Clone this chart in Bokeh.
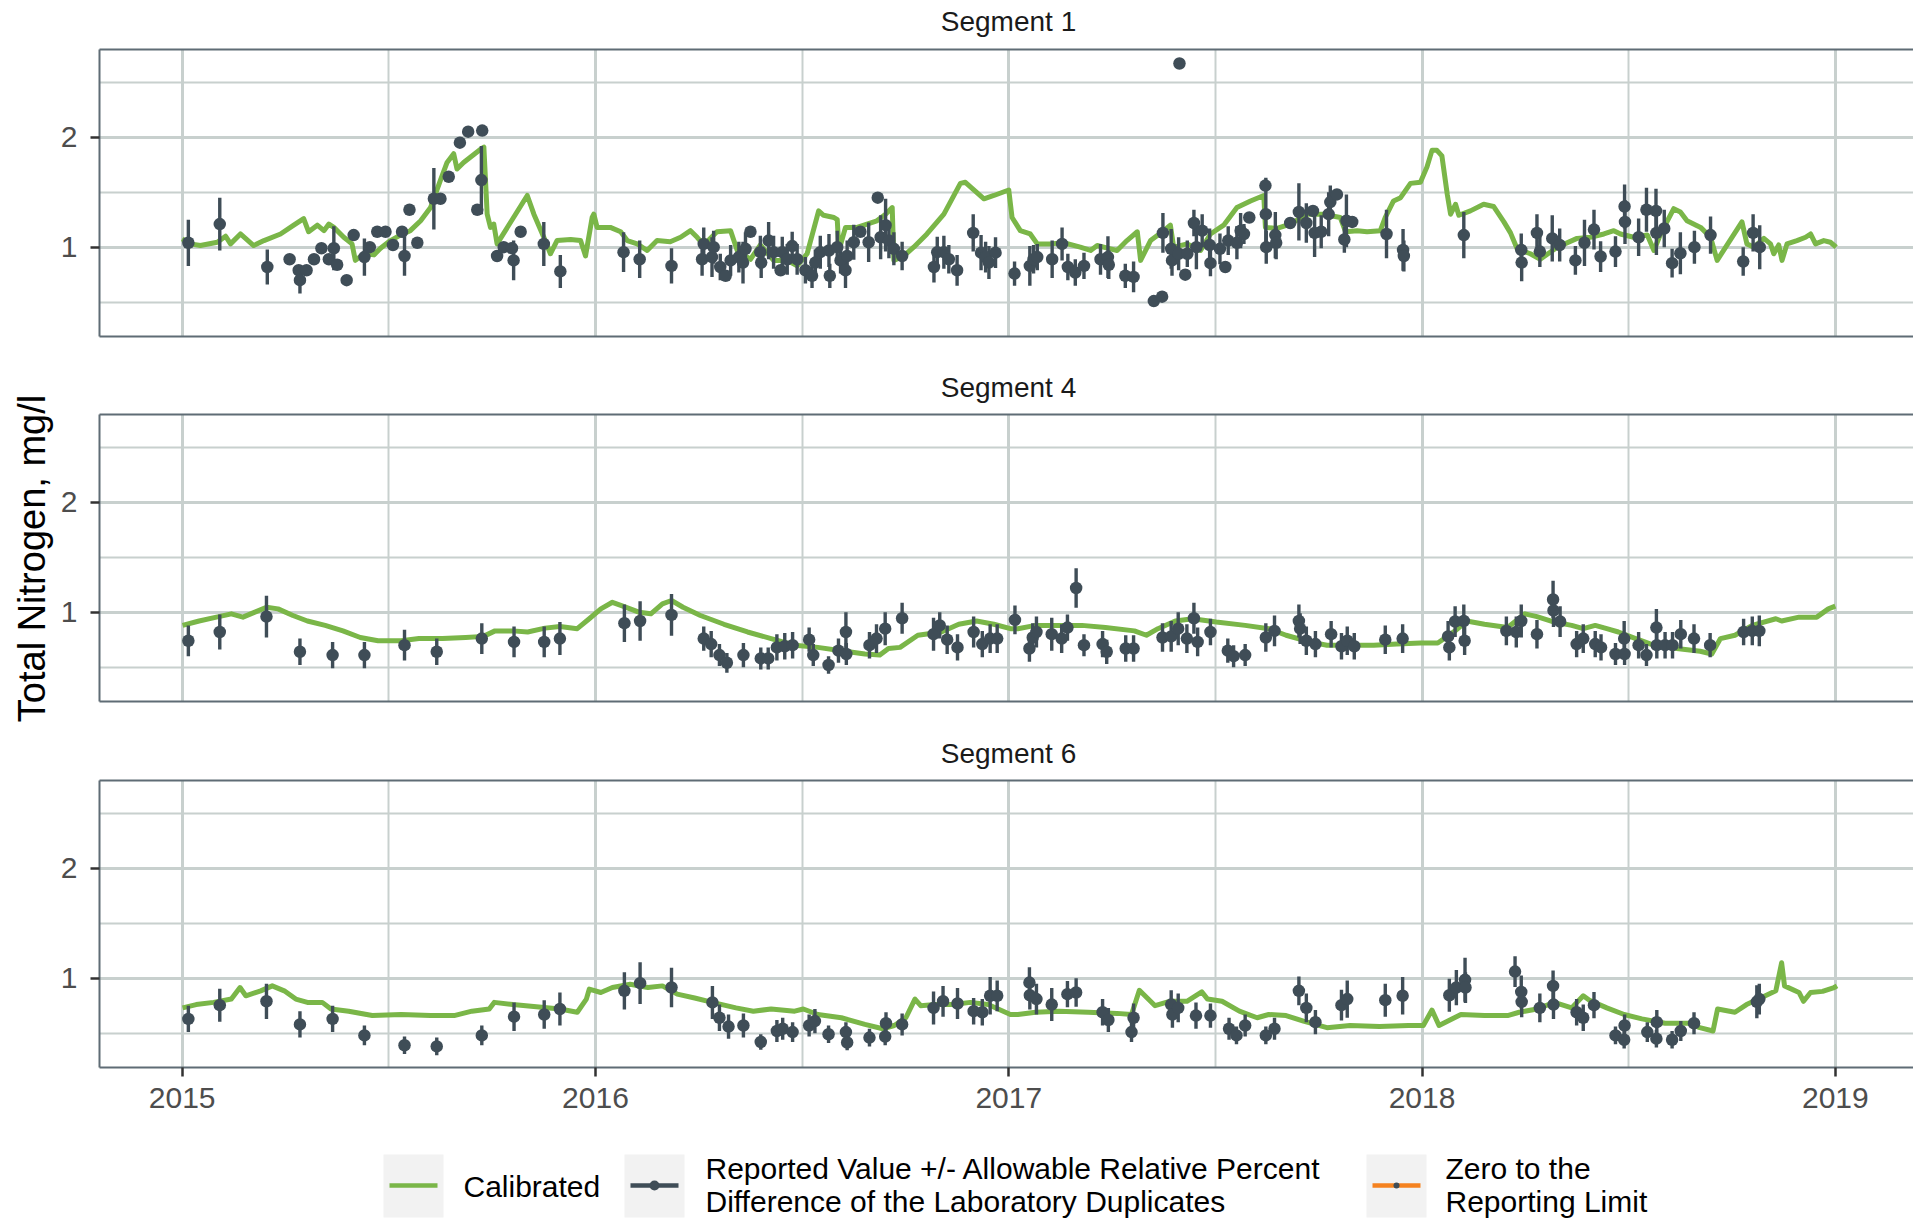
import math
from bokeh.plotting import figure
from bokeh.models import Range1d, FixedTicker, ColumnDataSource, LinearAxis
from bokeh.layouts import column, row
from bokeh.embed import file_html
from bokeh.resources import INLINE
from bokeh.core.properties import value

# ---------------- data ----------------
panel_names = ["Segment 1", "Segment 4", "Segment 6"]
year_ticks = [2015, 2016, 2017, 2018, 2019]
half_year_ticks = [2015.5, 2016.5, 2017.5, 2018.5]
y_ticks = [1, 2]
y_minor_ticks = [0.5, 1.5, 2.5]
y_title = "Total Nitrogen, mg/l"
legend_labels = ["Calibrated",
                 "Reported Value +/- Allowable Relative Percent|Difference of the Laboratory Duplicates",
                 "Zero to the|Reporting Limit"]

seg1_cal_t = [2015.000, 2015.020, 2015.044, 2015.085, 2015.105, 2015.117, 2015.141, 2015.173, 2015.198, 2015.238,
              2015.270, 2015.294, 2015.306, 2015.327, 2015.343, 2015.355, 2015.367, 2015.391, 2015.411, 2015.419,
              2015.440, 2015.464, 2015.480, 2015.504, 2015.528, 2015.552, 2015.577, 2015.601, 2015.625, 2015.641,
              2015.657, 2015.665, 2015.681, 2015.722, 2015.730, 2015.738, 2015.746, 2015.754, 2015.762, 2015.835,
              2015.851, 2015.875, 2015.891, 2015.907, 2015.940, 2015.964, 2015.976, 2015.992, 2015.996, 2016.004,
              2016.036, 2016.061, 2016.077, 2016.101, 2016.125, 2016.149, 2016.181, 2016.206, 2016.230, 2016.246,
              2016.262, 2016.294, 2016.327, 2016.343, 2016.375, 2016.399, 2016.431, 2016.464, 2016.488, 2016.512,
              2016.540, 2016.552, 2016.577, 2016.585, 2016.589, 2016.605, 2016.633, 2016.681, 2016.702, 2016.718,
              2016.722, 2016.746, 2016.770, 2016.802, 2016.843, 2016.883, 2016.895, 2016.940, 2016.964, 2017.000,
              2017.008, 2017.028, 2017.052, 2017.069, 2017.101, 2017.133, 2017.173, 2017.198, 2017.214, 2017.246,
              2017.262, 2017.286, 2017.311, 2017.319, 2017.343, 2017.375, 2017.391, 2017.399, 2017.432, 2017.464,
              2017.488, 2017.520, 2017.552, 2017.585, 2017.617, 2017.621, 2017.649, 2017.681, 2017.722, 2017.762,
              2017.802, 2017.815, 2017.843, 2017.867, 2017.899, 2017.911, 2017.931, 2017.948, 2017.972, 2017.996,
              2018.012, 2018.024, 2018.036, 2018.048, 2018.061, 2018.069, 2018.081, 2018.089, 2018.117, 2018.149,
              2018.173, 2018.198, 2018.214, 2018.230, 2018.262, 2018.286, 2018.327, 2018.375, 2018.407, 2018.440,
              2018.464, 2018.480, 2018.512, 2018.545, 2018.561, 2018.577, 2018.609, 2018.625, 2018.641, 2018.674,
              2018.698, 2018.714, 2018.774, 2018.786, 2018.803, 2018.827, 2018.843, 2018.851, 2018.863, 2018.871,
              2018.883, 2018.907, 2018.928, 2018.940, 2018.952, 2018.972, 2018.988, 2019.002]
seg1_cal_v = [1.076, 1.03, 1.015, 1.045, 1.10, 1.03, 1.12, 1.015, 1.06, 1.12,
              1.20, 1.26, 1.14, 1.20, 1.15, 1.21, 1.18, 1.09, 1.03, 0.88,
              0.94, 0.93, 0.99, 1.06, 1.11, 1.15, 1.24, 1.36, 1.61, 1.77,
              1.85, 1.71, 1.77, 1.89, 1.91, 1.30, 1.18, 1.21, 1.03, 1.47,
              1.30, 1.09, 0.94, 1.06, 1.07, 1.06, 0.92, 1.27, 1.30, 1.18,
              1.18, 1.14, 1.06, 1.03, 0.97, 1.06, 1.05, 1.09, 1.15, 1.09,
              1.02, 1.14, 1.15, 0.97, 0.89, 1.02, 0.88, 0.88, 0.83, 0.94,
              1.33, 1.29, 1.27, 1.25, 0.97, 1.18, 1.18, 1.24, 1.30, 1.36,
              0.88, 0.92, 1.00, 1.12, 1.30, 1.58, 1.59, 1.44, 1.47, 1.52,
              1.27, 1.15, 1.12, 1.03, 1.03, 1.04, 1.00, 0.97, 1.015, 0.985,
              0.97, 1.06, 1.14, 0.88, 1.06, 1.15, 1.20, 1.00, 1.03, 0.97,
              1.12, 1.20, 1.36, 1.42, 1.47, 1.18, 1.17, 1.21, 1.30, 1.30,
              1.27, 1.14, 1.15, 1.14, 1.15, 1.27, 1.42, 1.45, 1.58, 1.59,
              1.73, 1.88, 1.88, 1.83, 1.48, 1.30, 1.39, 1.29, 1.33, 1.39,
              1.37, 1.23, 1.13, 0.985, 0.94, 0.89, 1.00, 1.08, 1.09, 1.12,
              1.15, 1.12, 1.09, 1.11, 0.97, 1.12, 1.35, 1.32, 1.24, 1.18,
              1.09, 0.88, 1.23, 1.03, 1.00, 1.08, 1.03, 0.94, 1.02, 0.88,
              1.03, 1.06, 1.09, 1.12, 1.03, 1.06, 1.045, 1.00]

seg1_obs_t = [2015.015, 2015.091, 2015.206, 2015.260, 2015.282, 2015.285, 2015.301, 2015.319, 2015.337, 2015.355,
              2015.367, 2015.375, 2015.398, 2015.415, 2015.441, 2015.454, 2015.472, 2015.492, 2015.510, 2015.532,
              2015.538, 2015.550, 2015.569, 2015.609, 2015.625, 2015.645, 2015.672, 2015.692, 2015.714, 2015.724,
              2015.726, 2015.762, 2015.778, 2015.798, 2015.802, 2015.819, 2015.875, 2015.915,
              2016.068, 2016.107, 2016.184, 2016.258, 2016.262, 2016.282, 2016.286, 2016.302, 2016.315, 2016.327,
              2016.347, 2016.357, 2016.363, 2016.375, 2016.399, 2016.401, 2016.419, 2016.431, 2016.448, 2016.452,
              2016.464, 2016.476, 2016.488, 2016.508, 2016.524, 2016.532, 2016.544, 2016.565, 2016.567, 2016.585,
              2016.593, 2016.605, 2016.609, 2016.625, 2016.641, 2016.661, 2016.683, 2016.690, 2016.702, 2016.710,
              2016.722, 2016.742, 2016.819, 2016.827, 2016.843, 2016.855, 2016.875, 2016.914, 2016.933, 2016.944,
              2016.952, 2016.968, 2017.014, 2017.051, 2017.060, 2017.069, 2017.105, 2017.129, 2017.143, 2017.161,
              2017.182, 2017.222, 2017.240, 2017.242, 2017.282, 2017.302, 2017.351, 2017.371, 2017.373, 2017.393,
              2017.395, 2017.411, 2017.413, 2017.427, 2017.432, 2017.448, 2017.454, 2017.468, 2017.486, 2017.488,
              2017.511, 2017.524, 2017.531, 2017.552, 2017.561, 2017.569, 2017.582, 2017.621, 2017.622, 2017.623,
              2017.645, 2017.647, 2017.681, 2017.702, 2017.720, 2017.736, 2017.740, 2017.756, 2017.774, 2017.778,
              2017.794, 2017.812, 2017.817, 2017.831, 2017.914, 2017.954, 2017.956, 2018.101,
              2018.240, 2018.241, 2018.278, 2018.285, 2018.315, 2018.333, 2018.371, 2018.393, 2018.416, 2018.432,
              2018.468, 2018.490, 2018.491, 2018.524, 2018.543, 2018.566, 2018.567, 2018.586, 2018.605, 2018.625,
              2018.659, 2018.698, 2018.777, 2018.801, 2018.817]
seg1_obs_v = [1.04, 1.21, 0.82, 0.89, 0.79, 0.70, 0.79, 0.89, 0.99, 0.89,
              0.99, 0.84, 0.70, 1.11, 0.91, 1.00, 1.14, 1.14, 1.02, 1.14,
              0.92, 1.34, 1.04, 1.44, 1.44, 1.64, 1.95, 2.05, 1.34, 1.61,
              2.06, 0.92, 1.00, 0.99, 0.88, 1.14, 1.03, 0.78,
              0.955, 0.89, 0.83, 0.89, 1.03, 0.91, 1.00, 0.82, 0.74, 0.88,
              0.91, 0.86, 0.985, 1.14, 0.955, 0.86, 1.06, 0.955, 0.79, 0.955,
              0.89, 1.01, 0.89, 0.79, 0.74, 0.86, 0.955, 0.97, 0.74, 1.00,
              0.88, 0.79, 0.92, 1.045, 1.14, 1.045, 1.45, 1.09, 1.20, 1.06,
              0.985, 0.92, 0.82, 0.955, 0.955, 0.89, 0.79, 1.13, 0.95, 0.91,
              0.86, 0.95, 0.76, 0.83, 0.89, 0.91, 0.89, 1.03, 0.82, 0.77,
              0.83, 0.89, 0.91, 0.84, 0.74, 0.73, 0.51, 0.55, 1.13, 0.985,
              0.88, 0.94, 2.67, 0.75, 0.94, 1.22, 1.00, 1.15, 1.02, 0.855,
              0.985, 0.82, 1.06, 1.04, 1.15, 1.12, 1.27, 1.56, 1.30, 1.00,
              1.11, 1.04, 1.22, 1.32, 1.22, 1.33, 1.13, 1.14, 1.30, 1.41,
              1.48, 1.07, 1.24, 1.23, 1.12, 0.975, 0.92, 1.11,
              0.975, 0.86, 1.13, 0.96, 1.08, 1.02, 0.88, 1.04, 1.16, 0.915,
              0.96, 1.37, 1.23, 1.09, 1.34, 1.33, 1.13, 1.17, 0.855, 0.945,
              1.00, 1.11, 0.87, 1.13, 1.00]
seg1_obs_err = [0.21, 0.24, 0.16, 0, 0, 0.12, 0, 0, 0, 0,
                0.20, 0, 0, 0, 0.17, 0, 0, 0, 0, 0,
                0.18, 0, 0, 0.28, 0, 0, 0, 0, 0, 0.31,
                0, 0, 0, 0, 0.18, 0, 0.20, 0.15,
                0.18, 0.17, 0.16, 0.15, 0.15, 0.18, 0.15, 0.12, 0, 0.14,
                0.14, 0.19, 0.15, 0, 0.15, 0.14, 0.17, 0.15, 0, 0.14,
                0.14, 0.13, 0.14, 0.12, 0.11, 0.12, 0.15, 0.15, 0.11, 0.15,
                0.12, 0.16, 0.14, 0.16, 0, 0.18, 0, 0.20, 0.24, 0.16,
                0.15, 0.13, 0.14, 0.14, 0.15, 0.13, 0.14, 0.17, 0.16, 0.14,
                0.15, 0.14, 0.11, 0.18, 0.13, 0.12, 0.17, 0.15, 0.12, 0.12,
                0.12, 0.14, 0.19, 0.13, 0.11, 0.14, 0, 0, 0.18, 0.18,
                0.14, 0.15, 0, 0, 0.12, 0.12, 0.20, 0.15, 0.15, 0.12,
                0.14, 0, 0.13, 0.15, 0.16, 0.09, 0, 0, 0.33, 0.15,
                0.21, 0.15, 0, 0.26, 0.18, 0, 0.22, 0.15, 0.20, 0.15,
                0, 0.12, 0.24, 0, 0.22, 0.19, 0.14, 0.21,
                0.15, 0.17, 0.17, 0.14, 0.21, 0.15, 0.13, 0.21, 0.18, 0.14,
                0.14, 0.20, 0.20, 0.17, 0.20, 0.20, 0.20, 0.17, 0.13, 0.19,
                0.15, 0.17, 0.13, 0.17, 0.20]

seg4_cal_t = [2015.001, 2015.041, 2015.083, 2015.119, 2015.147, 2015.176, 2015.204, 2015.232, 2015.268, 2015.303,
              2015.346, 2015.389, 2015.431, 2015.474, 2015.530, 2015.573, 2015.630, 2015.686, 2015.729, 2015.757,
              2015.800, 2015.836, 2015.878, 2015.914, 2015.956, 2015.985, 2016.013, 2016.041, 2016.063, 2016.084,
              2016.105, 2016.134, 2016.162, 2016.184, 2016.212, 2016.254, 2016.311, 2016.368, 2016.425, 2016.482,
              2016.538, 2016.595, 2016.652, 2016.688, 2016.709, 2016.737, 2016.780, 2016.837, 2016.879, 2016.922,
              2016.964, 2017.004, 2017.022, 2017.065, 2017.121, 2017.177, 2017.234, 2017.304, 2017.333, 2017.361,
              2017.403, 2017.445, 2017.502, 2017.572, 2017.629, 2017.671, 2017.728, 2017.770, 2017.826, 2017.883,
              2017.939, 2017.996, 2018.038, 2018.080, 2018.108, 2018.151, 2018.207, 2018.249, 2018.278, 2018.320,
              2018.362, 2018.390, 2018.419, 2018.447, 2018.475, 2018.517, 2018.560, 2018.616, 2018.673, 2018.701,
              2018.722, 2018.757, 2018.799, 2018.856, 2018.870, 2018.912, 2018.955, 2018.983, 2019.000]
seg4_cal_v = [0.88, 0.92, 0.955, 0.985, 0.955, 1.00, 1.045, 1.03, 0.97, 0.92,
              0.88, 0.83, 0.77, 0.74, 0.74, 0.76, 0.76, 0.77, 0.78, 0.83,
              0.83, 0.82, 0.855, 0.87, 0.85, 0.94, 1.03, 1.09, 1.06, 1.03,
              1.00, 0.985, 1.076, 1.106, 1.045, 0.97, 0.89, 0.82, 0.76, 0.70,
              0.68, 0.65, 0.62, 0.61, 0.67, 0.68, 0.79, 0.82, 0.89, 0.92,
              0.89, 0.85, 0.85, 0.88, 0.88, 0.88, 0.86, 0.83, 0.79, 0.85,
              0.92, 0.94, 0.91, 0.88, 0.85, 0.79, 0.73, 0.70, 0.70, 0.70,
              0.71, 0.72, 0.72, 0.83, 0.92, 0.89, 0.86, 0.985, 0.96, 0.91,
              0.88, 0.85, 0.88, 0.85, 0.82, 0.76, 0.70, 0.67, 0.645, 0.62,
              0.76, 0.79, 0.88, 0.94, 0.92, 0.955, 0.955, 1.03, 1.055]

seg4_obs_t = [2015.015, 2015.091, 2015.204, 2015.285, 2015.364, 2015.441, 2015.538, 2015.616, 2015.725, 2015.803,
              2015.876, 2015.914, 2016.070, 2016.108, 2016.184, 2016.262, 2016.280, 2016.300, 2016.318, 2016.358,
              2016.400, 2016.418, 2016.439, 2016.458, 2016.477, 2016.517, 2016.527, 2016.564, 2016.588, 2016.606,
              2016.607, 2016.663, 2016.680, 2016.701, 2016.742, 2016.818, 2016.833, 2016.851, 2016.876, 2016.915,
              2016.936, 2016.955, 2016.972, 2017.015, 2017.050, 2017.058, 2017.067, 2017.104, 2017.128, 2017.142,
              2017.163, 2017.182, 2017.227, 2017.237, 2017.283, 2017.302, 2017.372, 2017.393, 2017.410, 2017.431,
              2017.448, 2017.457, 2017.488, 2017.530, 2017.544, 2017.572, 2017.622, 2017.643, 2017.702, 2017.705,
              2017.720, 2017.742, 2017.780, 2017.805, 2017.819, 2017.836, 2017.911, 2017.953, 2018.063, 2018.066,
              2018.080, 2018.101, 2018.103, 2018.204, 2018.228, 2018.240, 2018.278, 2018.317, 2018.318, 2018.334,
              2018.374, 2018.390, 2018.419, 2018.433, 2018.468, 2018.489, 2018.490, 2018.524, 2018.543, 2018.567,
              2018.568, 2018.588, 2018.606, 2018.626, 2018.658, 2018.697, 2018.778, 2018.799, 2018.816]
seg4_obs_v = [0.74, 0.82, 0.96, 0.64, 0.61, 0.61, 0.70, 0.64, 0.76, 0.73,
              0.73, 0.76, 0.90, 0.92, 0.975, 0.76, 0.71, 0.61, 0.54, 0.61,
              0.58, 0.58, 0.68, 0.69, 0.70, 0.75, 0.61, 0.52, 0.65, 0.82,
              0.62, 0.70, 0.76, 0.85, 0.945, 0.80, 0.88, 0.75, 0.68, 0.82,
              0.71, 0.76, 0.76, 0.93, 0.67, 0.77, 0.82, 0.80, 0.76, 0.86,
              1.22, 0.70, 0.71, 0.64, 0.67, 0.67, 0.77, 0.78, 0.85, 0.76,
              0.945, 0.73, 0.82, 0.65, 0.60, 0.61, 0.77, 0.83, 0.92, 0.85,
              0.74, 0.71, 0.80, 0.69, 0.74, 0.69, 0.75, 0.76, 0.78, 0.68,
              0.915, 0.92, 0.74, 0.83, 0.82, 0.92, 0.80, 1.115, 1.015, 0.915,
              0.71, 0.76, 0.71, 0.68, 0.62, 0.76, 0.62, 0.70, 0.61, 0.86,
              0.70, 0.70, 0.70, 0.80, 0.76, 0.70, 0.82, 0.83, 0.83]
seg4_obs_err = [0.14, 0.16, 0.19, 0.12, 0.12, 0.12, 0.14, 0.12, 0.14, 0.14,
                0.14, 0.15, 0.17, 0.18, 0.19, 0.11, 0.12, 0.10, 0.09, 0.11,
                0.10, 0.10, 0.12, 0.12, 0.12, 0.11, 0.10, 0.08, 0.11, 0.18,
                0.10, 0.12, 0.13, 0.15, 0.14, 0.15, 0.12, 0.13, 0.12, 0.14,
                0.12, 0.13, 0.13, 0.13, 0.12, 0.13, 0.14, 0.15, 0.13, 0.12,
                0.18, 0.10, 0.12, 0.11, 0.12, 0.12, 0.13, 0.14, 0.15, 0.13,
                0.14, 0.13, 0.12, 0.11, 0.10, 0.10, 0.13, 0.14, 0.15, 0.14,
                0.13, 0.12, 0.12, 0.12, 0.13, 0.12, 0.13, 0.13, 0.14, 0.12,
                0.14, 0.15, 0.13, 0.13, 0.14, 0.15, 0.13, 0.17, 0.15, 0.14,
                0.12, 0.13, 0.12, 0.12, 0.10, 0.16, 0.10, 0.12, 0.10, 0.17,
                0.12, 0.12, 0.12, 0.13, 0.13, 0.11, 0.12, 0.13, 0.14]

seg6_cal_t = [2015.001, 2015.034, 2015.076, 2015.119, 2015.140, 2015.154, 2015.190, 2015.218, 2015.247, 2015.275,
              2015.303, 2015.339, 2015.360, 2015.403, 2015.460, 2015.530, 2015.601, 2015.658, 2015.701, 2015.743,
              2015.755, 2015.800, 2015.857, 2015.914, 2015.956, 2015.978, 2015.985, 2016.013, 2016.041, 2016.084,
              2016.127, 2016.162, 2016.198, 2016.240, 2016.283, 2016.340, 2016.382, 2016.425, 2016.482, 2016.503,
              2016.538, 2016.595, 2016.652, 2016.695, 2016.723, 2016.751, 2016.773, 2016.787, 2016.822, 2016.865,
              2016.907, 2016.950, 2017.004, 2017.022, 2017.065, 2017.121, 2017.192, 2017.262, 2017.297, 2017.316,
              2017.354, 2017.389, 2017.431, 2017.467, 2017.481, 2017.516, 2017.558, 2017.601, 2017.629, 2017.671,
              2017.713, 2017.770, 2017.826, 2017.897, 2017.967, 2018.003, 2018.024, 2018.041, 2018.094, 2018.151,
              2018.207, 2018.235, 2018.278, 2018.320, 2018.362, 2018.390, 2018.405, 2018.447, 2018.489, 2018.532,
              2018.588, 2018.644, 2018.672, 2018.704, 2018.715, 2018.757, 2018.785, 2018.814, 2018.856, 2018.870,
              2018.877, 2018.912, 2018.923, 2018.940, 2018.969, 2018.997, 2019.004]
seg6_cal_v = [0.73, 0.76, 0.78, 0.81, 0.915, 0.84, 0.885, 0.93, 0.885, 0.81,
              0.78, 0.78, 0.72, 0.70, 0.66, 0.67, 0.66, 0.66, 0.70, 0.72,
              0.78, 0.76, 0.74, 0.72, 0.69, 0.81, 0.90, 0.87, 0.915, 0.945,
              0.915, 0.93, 0.855, 0.82, 0.78, 0.73, 0.70, 0.72, 0.70, 0.72,
              0.67, 0.64, 0.58, 0.54, 0.57, 0.64, 0.81, 0.75, 0.76, 0.76,
              0.78, 0.76, 0.67, 0.67, 0.69, 0.70, 0.69, 0.68, 0.67, 0.89,
              0.75, 0.79, 0.79, 0.875, 0.81, 0.79, 0.70, 0.64, 0.67, 0.66,
              0.61, 0.55, 0.57, 0.56, 0.57, 0.57, 0.71, 0.57, 0.67, 0.66,
              0.66, 0.69, 0.72, 0.78, 0.73, 0.84, 0.80, 0.73, 0.67, 0.63,
              0.59, 0.59, 0.55, 0.52, 0.72, 0.69, 0.76, 0.81, 0.885, 1.14,
              0.93, 0.87, 0.79, 0.87, 0.88, 0.915, 0.93]

seg6_obs_t = [2015.015, 2015.091, 2015.204, 2015.285, 2015.364, 2015.441, 2015.538, 2015.616, 2015.725, 2015.803,
              2015.876, 2015.914, 2016.070, 2016.108, 2016.184, 2016.283, 2016.300, 2016.322, 2016.358, 2016.400,
              2016.439, 2016.453, 2016.477, 2016.517, 2016.531, 2016.564, 2016.606, 2016.609, 2016.663, 2016.701,
              2016.703, 2016.742, 2016.818, 2016.841, 2016.876, 2016.915, 2016.936, 2016.955, 2016.972, 2017.050,
              2017.051, 2017.067, 2017.104, 2017.142, 2017.163, 2017.227, 2017.241, 2017.297, 2017.302, 2017.393,
              2017.396, 2017.410, 2017.453, 2017.488, 2017.533, 2017.551, 2017.572, 2017.622, 2017.643, 2017.702,
              2017.720, 2017.742, 2017.805, 2017.819, 2017.911, 2017.953, 2018.066, 2018.083, 2018.104, 2018.105,
              2018.225, 2018.240, 2018.241, 2018.285, 2018.317, 2018.318, 2018.374, 2018.390, 2018.416, 2018.468,
              2018.489, 2018.490, 2018.545, 2018.567, 2018.568, 2018.605, 2018.626, 2018.658, 2018.810, 2018.816]
seg6_obs_v = [0.63, 0.755, 0.79, 0.58, 0.63, 0.48, 0.39, 0.38, 0.48, 0.65,
              0.67, 0.72, 0.885, 0.955, 0.915, 0.78, 0.64, 0.56, 0.57, 0.42,
              0.52, 0.54, 0.51, 0.57, 0.61, 0.49, 0.51, 0.415, 0.46, 0.47,
              0.59, 0.58, 0.73, 0.79, 0.77, 0.70, 0.69, 0.84, 0.84, 0.96,
              0.845, 0.81, 0.76, 0.855, 0.87, 0.69, 0.62, 0.51, 0.64, 0.76,
              0.67, 0.73, 0.66, 0.66, 0.54, 0.48, 0.57, 0.48, 0.54, 0.885,
              0.73, 0.60, 0.755, 0.81, 0.80, 0.84, 0.845, 0.915, 0.985, 0.915,
              1.06, 0.875, 0.785, 0.73, 0.93, 0.76, 0.69, 0.64, 0.755, 0.48,
              0.44, 0.57, 0.51, 0.45, 0.60, 0.44, 0.52, 0.59, 0.785, 0.81]
seg6_obs_err = [0.12, 0.15, 0.16, 0.12, 0.12, 0.09, 0.08, 0.08, 0.09, 0.13,
                0.13, 0.15, 0.17, 0.19, 0.18, 0.15, 0.12, 0.11, 0.11, 0.07,
                0.10, 0.10, 0.09, 0.10, 0.11, 0.08, 0.09, 0.07, 0.08, 0.08,
                0.10, 0.10, 0.15, 0.14, 0.14, 0.12, 0.12, 0.17, 0.14, 0.14,
                0.13, 0.14, 0.15, 0.12, 0.13, 0.12, 0.11, 0.09, 0.13, 0.13,
                0.12, 0.13, 0.12, 0.11, 0.10, 0.08, 0.10, 0.08, 0.10, 0.13,
                0.13, 0.11, 0.14, 0.17, 0.15, 0.17, 0.15, 0.16, 0.20, 0.14,
                0.14, 0.15, 0.14, 0.13, 0.14, 0.13, 0.12, 0.12, 0.12, 0.08,
                0.08, 0.10, 0.09, 0.08, 0.11, 0.08, 0.09, 0.10, 0.15, 0.14]

# ---------------- styling / layout ----------------
FONT = "Liberation Sans"
GREEN = "#7ab648"
DARK = "#3f4d57"
ORANGE = "#f5821f"
GRID = "#c8d0ce"
BORDER = "#5f6c75"
TICK = "#333333"
PAGE_W = 1913       # page margin is 0 in Bokeh's template
YLW = 54            # width of the y-title strip on the left
W = PAGE_W - YLW    # width of the stacked column
FRAME_LEFT = 99     # frame left edge in page px
LEFT = FRAME_LEFT - YLW
FRAME_H = 287
PAGE_H = 1219
PX_PER_YEAR = 413.3
X0 = 2014.8
X1 = X0 + (PAGE_W - FRAME_LEFT) / PX_PER_YEAR
Y0, Y1 = 0.188, 2.797


def base_fig(width, height, left, top=0, bottom=0, x_range=None, y_range=None, axes=True):
    kw = {} if axes else dict(x_axis_type=None, y_axis_type=None)
    p = figure(width=width, height=height, x_range=x_range, y_range=y_range,
               min_border_left=left, min_border_right=0, min_border_top=top, min_border_bottom=bottom,
               toolbar_location=None, output_backend="svg", background_fill_color="white",
               border_fill_color="white", **kw)
    p.outline_line_color = None
    return p


def border_axis():
    return LinearAxis(ticker=FixedTicker(ticks=[]), axis_line_color=BORDER, axis_line_width=2,
                      major_tick_line_color=None, minor_tick_line_color=None, major_tick_out=0,
                      major_tick_in=0, minor_tick_out=0, minor_tick_in=0, major_label_standoff=0,
                      major_label_text_font_size="0px")


def make_strip(name, page_top, page_bottom, center):
    # pixel-coordinate strip (page coordinates) holding the facet title
    s = base_fig(W, page_bottom - page_top, LEFT, x_range=Range1d(FRAME_LEFT, PAGE_W),
                 y_range=Range1d(page_bottom, page_top), axes=False)
    s.text(x=[1008], y=[center], text=[name], text_align="center", text_baseline="middle",
           text_font=value(FONT), text_font_size=value("28px"), text_color="#1a1a1a")
    return s


def make_panel(cal_t, cal_v, obs_t, obs_v, obs_e, bottom_axis):
    bottom = 73 if bottom_axis else 4
    p = base_fig(W, 4 + FRAME_H + bottom, LEFT, top=4, bottom=bottom,
                 x_range=Range1d(X0, X1), y_range=Range1d(Y0, Y1))

    p.xaxis.ticker = FixedTicker(ticks=year_ticks, minor_ticks=half_year_ticks)
    p.yaxis.ticker = FixedTicker(ticks=y_ticks, minor_ticks=y_minor_ticks)
    for g in (p.xgrid, p.ygrid):
        g.grid_line_color = GRID
        g.grid_line_width = 3
        g.minor_grid_line_color = GRID
        g.minor_grid_line_width = 2

    for ax in list(p.xaxis) + list(p.yaxis):
        ax.axis_line_color = BORDER
        ax.axis_line_width = 2
        ax.minor_tick_line_color = None
        ax.major_tick_line_color = TICK
        ax.major_tick_line_width = 2.5
        ax.major_tick_out = 9
        ax.major_tick_in = 0
        ax.major_label_text_font = FONT
        ax.major_label_text_font_size = "30px"
        ax.major_label_text_color = "#4d4d4d"
    p.yaxis.major_label_standoff = 13
    p.xaxis.major_label_standoff = 11
    if not bottom_axis:
        p.xaxis.visible = False
        p.add_layout(border_axis(), "below")
    p.add_layout(border_axis(), "above")

    p.line(cal_t, cal_v, line_color=GREEN, line_width=5, line_join="round")
    src = ColumnDataSource(dict(t=obs_t, v=obs_v,
                                lo=[v - e for v, e in zip(obs_v, obs_e)],
                                hi=[v + e for v, e in zip(obs_v, obs_e)]))
    p.segment(x0="t", y0="lo", x1="t", y1="hi", source=src, line_color=DARK, line_width=3.4)
    p.scatter(x="t", y="v", source=src, size=12.5, fill_color=DARK, line_color=DARK, line_width=0)
    return p


s1 = make_strip(panel_names[0], 0, 45, 21)
p1 = make_panel(seg1_cal_t, seg1_cal_v, seg1_obs_t, seg1_obs_v, seg1_obs_err, False)      # 45-340
s2 = make_strip(panel_names[1], 340, 410, 387)
p2 = make_panel(seg4_cal_t, seg4_cal_v, seg4_obs_t, seg4_obs_v, seg4_obs_err, False)      # 410-705
s3 = make_strip(panel_names[2], 705, 776, 753)
p3 = make_panel(seg6_cal_t, seg6_cal_v, seg6_obs_t, seg6_obs_v, seg6_obs_err, True)       # 776-1140

# ---------------- legend (page-pixel coordinates) ----------------
LT, LB = 1140, PAGE_H
leg = base_fig(W, LB - LT, LEFT, x_range=Range1d(FRAME_LEFT, PAGE_W), y_range=Range1d(LB, LT), axes=False)
box_l = [383, 624, 1366]
leg.quad(left=box_l, right=[b + 60 for b in box_l], bottom=[1217] * 3, top=[1154] * 3,
         fill_color="#f2f2f2", line_color=None)
leg.segment(x0=[b + 6 for b in box_l], y0=[1185] * 3, x1=[b + 54 for b in box_l], y1=[1185] * 3,
            line_color=[GREEN, DARK, ORANGE], line_width=4.5)
leg.scatter(x=[box_l[1] + 30], y=[1185], size=10, fill_color=DARK, line_color=None)
leg.scatter(x=[box_l[2] + 30], y=[1185], size=6, fill_color=DARK, line_color=None)

txt_x, txt_y, txt = [], [], []
lab_left = [463, 705, 1445]
for lab, xl in zip(legend_labels, lab_left):
    lines = lab.split("|")
    if len(lines) == 1:
        txt_x.append(xl); txt_y.append(1186); txt.append(lines[0])
    else:
        txt_x += [xl, xl]; txt_y += [1168, 1201]; txt += lines
leg.text(x=txt_x, y=txt_y, text=txt, text_font=value(FONT), text_font_size=value("30px"),
         text_baseline="middle", text_align="left", text_color="#000000")

# ---------------- shared y-axis title (page-pixel coordinates) ----------------
yl = base_fig(YLW, PAGE_H, 0, x_range=Range1d(0, YLW), y_range=Range1d(PAGE_H, 0), axes=False)
yl.text(x=[31], y=[558], text=[y_title], angle=math.pi / 2, text_align="center", text_baseline="middle",
        text_font=value(FONT), text_font_size=value("38px"), text_color="#000000")

layout = row(yl, column(s1, p1, s2, p2, s3, p3, leg, spacing=0), spacing=0)
open("out.html", "w").write(file_html(layout, INLINE))
